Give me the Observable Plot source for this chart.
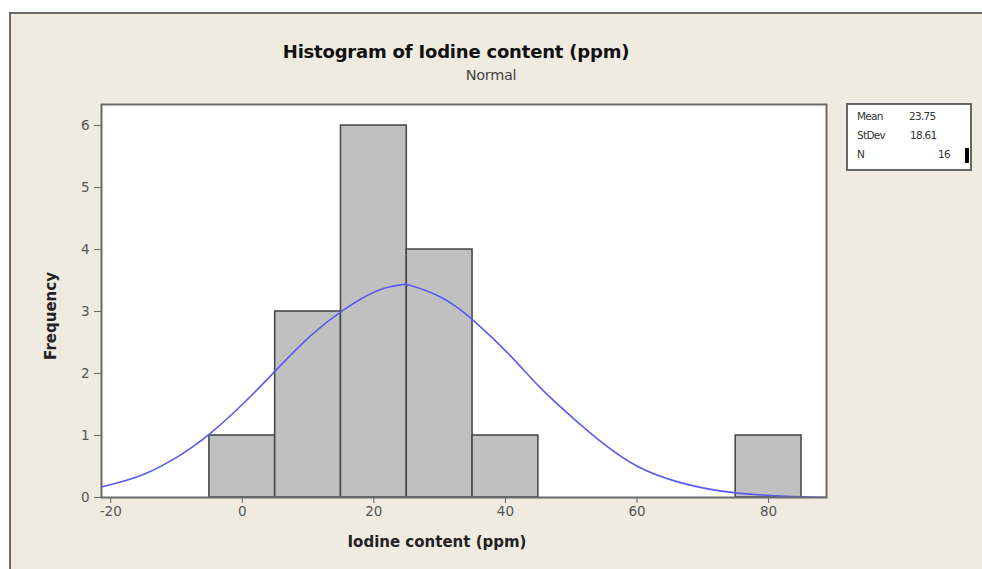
<!DOCTYPE html>
<html><head><meta charset="utf-8">
<script src="https://cdn.jsdelivr.net/npm/d3@7"></script>
<script src="https://cdn.jsdelivr.net/npm/@observablehq/plot@0.6"></script>
<style>
html,body{margin:0;padding:0;background:#fff;width:982px;height:569px;overflow:hidden;font-family:"DejaVu Sans",sans-serif;}
#frame{position:absolute;left:9px;top:12px;width:1000px;height:600px;background:#efebe1;border-left:2px solid #6a6a6a;border-top:2px solid #6a6a6a;}
#chart{position:absolute;left:0;top:0;}
#chart svg{background:transparent;}
.t{position:absolute;white-space:nowrap;}
#title{left:0;width:912px;top:41px;text-align:center;font-size:18px;font-weight:bold;color:#111;letter-spacing:-0.2px;}
#sub{left:0;width:982px;top:67px;text-align:center;font-size:14.5px;color:#444;letter-spacing:-0.3px;}
#legend{position:absolute;left:846px;top:103px;width:122px;height:64px;border:2px solid #666;background:#fff;}
.lg{position:absolute;font-size:10.5px;color:#333;letter-spacing:-0.7px;}
#bar{position:absolute;left:965px;top:148px;width:4px;height:15px;background:#000;}
g[aria-label="x-axis tick label"] text, g[aria-label="y-axis tick label"] text{fill:#555;}
g[aria-label="x-axis tick"], g[aria-label="y-axis tick"]{stroke:#666;}
</style></head>
<body>
<div id="frame"></div>
<div id="chart"></div>
<div class="t" id="title">Histogram of Iodine content (ppm)</div>
<div class="t" id="sub">Normal</div>
<div id="legend"></div>
<div class="lg" style="left:857px;top:110px;">Mean</div>
<div class="lg" style="left:909px;top:110px;">23.75</div>
<div class="lg" style="left:857px;top:129px;">StDev</div>
<div class="lg" style="left:910px;top:129px;">18.61</div>
<div class="lg" style="left:857px;top:148px;">N</div>
<div class="lg" style="left:938px;top:148px;">16</div>
<div id="bar"></div>
<script>
// Histogram bins (ppm) and frequencies
const binStart = [-5, 5, 15, 25, 35, 75];
const binEnd   = [5, 15, 25, 35, 45, 85];
const counts   = [1, 3, 6, 4, 1, 1];
// Fitted normal curve
const curveX = [-21.4, -18.5, -14.6, -10.1, -7.8, -4.8, 0, 5.1, 10.4, 15.3, 20.6, 24.1, 25.6, 30.2, 35.2, 40.8, 45.4, 50.4, 55, 60.1, 66.6, 75.3, 85.3, 88.5];
const curveY = [0.17, 0.25, 0.39, 0.64, 0.8, 1.04, 1.5, 2.05, 2.61, 3.02, 3.34, 3.43, 3.42, 3.23, 2.85, 2.28, 1.76, 1.27, 0.86, 0.5, 0.24, 0.07, 0.01, 0.005];
const xTicks = [-20, 0, 20, 40, 60, 80];
const yTicks = [0, 1, 2, 3, 4, 5, 6];
const xLabel = "Iodine content (ppm)";
const yLabel = "Frequency";

const bars = binStart.map((s, i) => ({x1: s, x2: binEnd[i], count: counts[i]}));
const curve = curveX.map((x, i) => ({x, y: curveY[i]}));

const chart = Plot.plot({
  width: 982, height: 569,
  marginLeft: 101, marginRight: 156, marginTop: 104, marginBottom: 72,
  style: {background: "transparent", fontFamily: "'DejaVu Sans', sans-serif", fontSize: "13.5px"},
  x: {domain: [-21.4, 88.8]},
  y: {domain: [0, 6.34]},
  marks: [
    Plot.frame({fill: "white"}),
    Plot.rectY(bars, {x1: "x1", x2: "x2", y: "count", fill: "#c0c0c0", stroke: "#4a4a4a", strokeWidth: 1.6}),
    Plot.line(curve, {x: "x", y: "y", stroke: "#5b5bf2", strokeWidth: 1.6, curve: "natural"}),
    Plot.frame({stroke: "#6a6a6a", strokeWidth: 2}),
    Plot.axisX({ticks: xTicks, tickSize: 6, tickPadding: 3, tickFormat: d => String(d), label: null}),
    Plot.axisY({ticks: yTicks, tickSize: 7, tickPadding: 5, tickFormat: d => String(d), label: null}),
    Plot.text([xLabel], {text: d => d, frameAnchor: "bottom", textAnchor: "middle", lineAnchor: "middle", dx: -27, dy: 45, fontWeight: "bold", fontSize: 15, fill: "#222", letterSpacing: "-0.6px"}),
    Plot.text([yLabel], {text: d => d, frameAnchor: "left", textAnchor: "middle", lineAnchor: "middle", rotate: -90, dx: -50, dy: 15, fontWeight: "bold", fontSize: 15, fill: "#222"})
  ]
});
document.getElementById("chart").appendChild(chart);
</script>
</body></html>
